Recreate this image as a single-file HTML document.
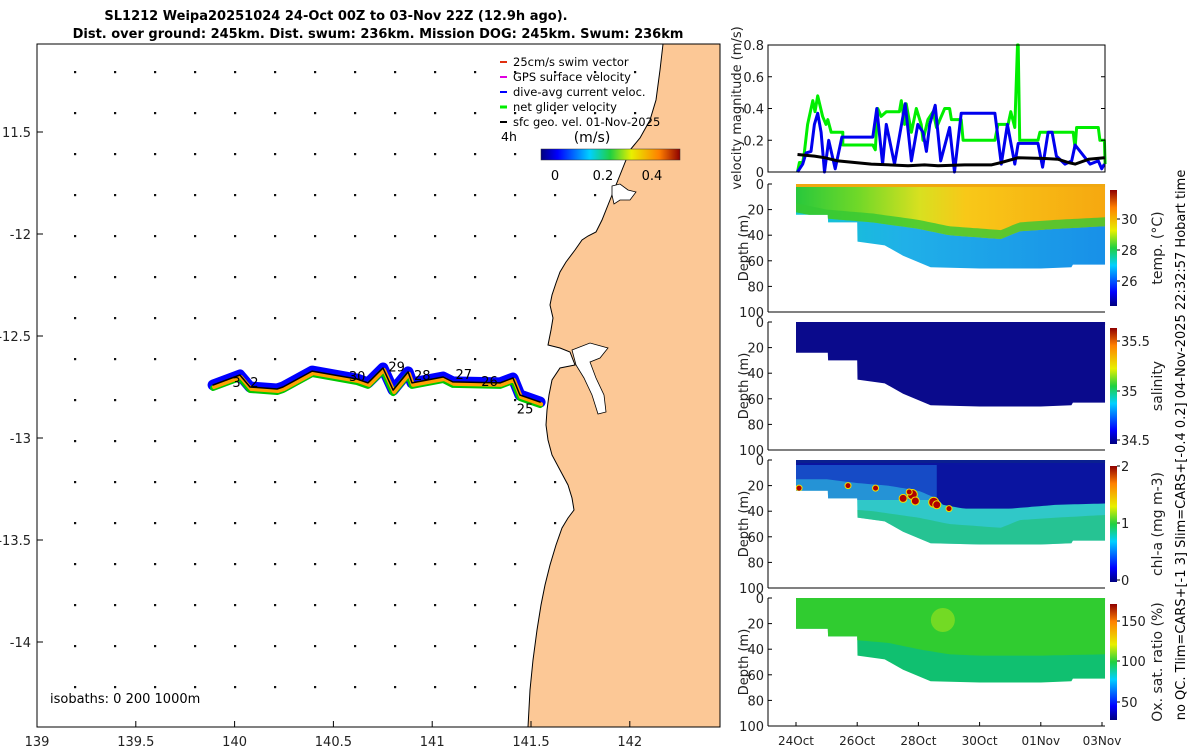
<!DOCTYPE html>
<html><head><meta charset="utf-8">
<style>
body{margin:0;background:#fff;}
svg{display:block;font-family:"DejaVu Sans","Liberation Sans",sans-serif;}
</style></head>
<body>
<svg id="fig" width="1200" height="750" viewBox="0 0 1200 750" xmlns="http://www.w3.org/2000/svg">
<defs>
<linearGradient id="jet" x1="0" y1="1" x2="0" y2="0">
<stop offset="0" stop-color="#00007f"/><stop offset="0.12" stop-color="#0000ff"/><stop offset="0.35" stop-color="#00d0ff"/><stop offset="0.5" stop-color="#20d040"/><stop offset="0.65" stop-color="#e8f000"/><stop offset="0.85" stop-color="#ff8000"/><stop offset="1" stop-color="#8f0000"/>
</linearGradient>
<linearGradient id="jeth" x1="0" y1="0" x2="1" y2="0">
<stop offset="0" stop-color="#00007f"/><stop offset="0.12" stop-color="#0000ff"/><stop offset="0.35" stop-color="#00d0ff"/><stop offset="0.5" stop-color="#20d040"/><stop offset="0.65" stop-color="#e8f000"/><stop offset="0.85" stop-color="#ff8000"/><stop offset="1" stop-color="#8f0000"/>
</linearGradient>
<linearGradient id="tempTop" x1="0" y1="0" x2="1" y2="0">
<stop offset="0" stop-color="#28c83c"/><stop offset="0.2" stop-color="#70d828"/><stop offset="0.4" stop-color="#d8e020"/><stop offset="0.55" stop-color="#f8c818"/><stop offset="1" stop-color="#f6a810"/>
</linearGradient>
<linearGradient id="tempBot" x1="0" y1="0" x2="1" y2="0">
<stop offset="0" stop-color="#10c8d0"/><stop offset="0.35" stop-color="#20b0e8"/><stop offset="1" stop-color="#1890e8"/>
</linearGradient>
</defs>

<text x="336" y="20" font-size="13" font-weight="bold" text-anchor="middle">SL1212 Weipa20251024 24-Oct 00Z to 03-Nov 22Z (12.9h ago).</text>
<text x="378" y="38" font-size="13" font-weight="bold" text-anchor="middle">Dist. over ground: 245km. Dist. swum: 236km. Mission DOG: 245km. Swum: 236km</text>

<g id="map">
<path fill="#fcc896" stroke="#000" stroke-width="1" d="M663,44 L660,70 L656,100 L650,120 L640,138 L630,150 L622,170 L614,190 L608,205 L602,220 L596,232 L588,236 L582,240 L575,250 L566,262 L560,272 L556,283 L552,295 L550,305 L553,318 L551,330 L548,345 L560,348 L570,352 L575,365 L560,368 L552,380 L549,395 L547,410 L546,425 L548,440 L552,455 L560,470 L568,485 L572,498 L574,510 L568,518 L562,528 L556,545 L550,565 L545,585 L541,605 L537,630 L533,660 L530,690 L528,727 L720,727 L720,44 Z"/>
<path fill="#fff" stroke="#000" stroke-width="0.8" d="M572,350 L590,343 L608,348 L600,358 L590,362 L596,378 L604,395 L606,412 L598,414 L592,395 L584,378 L576,365 Z"/>
<path fill="#fff" stroke="#000" stroke-width="0.8" d="M612,186 L620,184 L628,190 L636,192 L630,200 L620,200 L614,204 L612,195 Z"/>
<g id="dots"></g>
<g id="track"></g>
<rect x="37" y="44" width="683" height="683" fill="none" stroke="#000" stroke-width="1"/>
<g id="mapAxes" font-size="13" fill="#222"></g>
<text x="50" y="703" font-size="13">isobaths: 0   200  1000m</text>
<g font-size="11.5">
<line x1="500" y1="62" x2="507" y2="62" stroke="#e03010" stroke-width="2"/><text x="513" y="66">25cm/s swim vector</text>
<line x1="500" y1="77" x2="507" y2="77" stroke="#e000e0" stroke-width="2"/><text x="513" y="81">GPS surface velocity</text>
<line x1="500" y1="92" x2="507" y2="92" stroke="#0000ff" stroke-width="2"/><text x="513" y="96">dive-avg current veloc.</text>
<line x1="500" y1="107" x2="507" y2="107" stroke="#00ee00" stroke-width="3"/><text x="513" y="111">net glider velocity</text>
<line x1="500" y1="122" x2="507" y2="122" stroke="#000" stroke-width="2"/><text x="513" y="126">sfc geo. vel. 01-Nov-2025</text>
<text x="501" y="141" font-size="12.5">4h</text>
<text x="592" y="142" font-size="14" text-anchor="middle">(m/s)</text>
<rect x="541" y="149" width="139" height="11" fill="url(#jeth)" stroke="#333" stroke-width="0.5"/>
<text x="555" y="180" font-size="13" text-anchor="middle">0</text>
<text x="603" y="180" font-size="13" text-anchor="middle">0.2</text>
<text x="652" y="180" font-size="13" text-anchor="middle">0.4</text>
</g>
<g id="dayLabels" font-size="13"></g>
</g>

<g id="vel"></g>
<g id="depthPanels"></g>

<text transform="translate(1185,445) rotate(-90)" font-size="13" text-anchor="middle">no QC. Tlim=CARS+[-1 3] Slim=CARS+[-0.4 0.2] 04-Nov-2025 22:32:57 Hobart time</text>
</svg>
<script>
// ---------------- data ----------------
const mapLonTicks=[139,139.5,140,140.5,141,141.5,142];
const mapLatTicks=[-11.5,-12,-12.5,-13,-13.5,-14];
const mapLatLabels=['11.5','-12','-12.5','-13','-13.5','-14'];
const trackLon=[139.891,140.027,140.078,140.215,140.245,140.392,140.619,140.675,140.751,140.802,140.878,140.898,141.055,141.105,141.343,141.409,141.444,141.546];
const trackLat=[-12.740,-12.691,-12.750,-12.760,-12.750,-12.672,-12.711,-12.730,-12.657,-12.765,-12.676,-12.730,-12.701,-12.725,-12.730,-12.706,-12.789,-12.824];
const dayLabelText=['3','2','30','29','28','27','26','25'];
const dayLabelLon=[140.01,140.1,140.62,140.82,140.95,141.16,141.29,141.47];
const dayLabelLat=[-12.75,-12.75,-12.72,-12.675,-12.715,-12.71,-12.745,-12.88];

const dateTicks=[0,2,4,6,8,10];
const dateLabels=['24Oct','26Oct','28Oct','30Oct','01Nov','03Nov'];
const velTicks=[0,0.2,0.4,0.6,0.8];
const greenT=[0.05,0.11,0.22,0.27,0.38,0.55,0.62,0.71,0.87,0.98,1.04,1.15,1.53,1.53,2.51,2.59,2.67,2.78,2.95,3.38,3.44,3.55,3.6,3.77,3.93,4.09,4.15,4.31,4.48,4.59,4.86,5.02,5.08,5.4,5.46,6.5,6.6,6.93,7.02,7.15,7.24,7.26,7.31,7.91,7.97,9.06,9.12,9.17,9.88,9.93,10.08,10.1];
const greenV=[0,0.06,0.06,0.12,0.3,0.45,0.38,0.48,0.35,0.3,0.33,0.25,0.25,0.17,0.17,0.14,0.4,0.35,0.38,0.38,0.45,0.3,0.43,0.25,0.4,0.3,0.2,0.33,0.38,0.28,0.4,0.4,0.33,0.33,0.2,0.2,0.3,0.3,0.38,0.28,0.8,0.8,0.2,0.2,0.25,0.25,0.15,0.28,0.28,0.2,0.2,0.05];
const blueT=[0.05,0.22,0.33,0.49,0.6,0.71,0.82,0.93,1.07,1.28,1.5,2.51,2.64,2.83,2.95,3.22,3.57,3.77,3.98,4.15,4.26,4.37,4.55,4.73,5.02,5.18,5.4,6.5,6.71,6.91,7.15,7.26,7.91,8.06,8.24,8.37,8.51,8.79,9.01,9.12,9.61,9.88,9.99,10.08];
const blueV=[0,0.05,0.12,0.13,0.3,0.37,0.25,0,0.2,0.02,0.22,0.22,0.4,0.05,0.3,0.05,0.43,0.07,0.3,0.25,0.13,0.3,0.42,0.07,0.28,0,0.37,0.37,0.05,0.3,0.05,0.18,0.18,0.03,0.25,0.25,0.1,0.05,0.07,0.17,0.05,0.07,0.02,0.05];
const geoT=[0.05,0.6,0.93,1.37,2.46,3.66,4.2,4.64,5.51,6.38,6.71,7.26,8.13,8.57,8.9,9.12,9.56,10.08];
const geoV=[0.11,0.1,0.09,0.07,0.05,0.04,0.045,0.04,0.045,0.045,0.06,0.09,0.085,0.08,0.06,0.05,0.08,0.09];

const profT=[0,1.04,1.05,2.0,2.01,2.9,3.5,4.4,6.0,8.0,9.0,9.05,10.1];
const bottomDepth=[24,24,30,30,45,48,56,65,66,66,65,63,63];
const thermoT=[0,1,2.5,4,5,6.7,7.3,8.5,10.1];
const thermoDepth=[22,27,30,35,40,43,37,35,33];
const chlTopT=[0,1,2,3,4,4.6,4.8,5.5,7,8.5,10.1];
const chlTopDepth=[15,15,18,20,24,30,35,38,38,35,34];
const chlBlobT=[3.5,3.8,3.9,4.5,4.6,3.7,5.0,2.6,1.7,0.1];
const chlBlobD=[30,27,32,33,35,25,38,22,20,22];
const chlBlobR=[4,5,4,5,4,3,3,3,3,3];
const oxBoundT=[0,2,3,4,5,6,8,10.1];
const oxBoundD=[28,33,35,40,44,45,45,44];

const tempTicks=[30,28,26], tempTickY=[219,250,281];
const salTicks=['35.5','35','34.5'], salTickY=[341,391,440];
const chlTicks=['2','1','0'], chlTickY=[466,523,580];
const oxTicks=['150','100','50'], oxTickY=[621,661,702];
const depthTicks=[0,20,40,60,80,100];

// ---------------- helpers ----------------
const NS='http://www.w3.org/2000/svg';
function mk(tag,attrs,parent){const e=document.createElementNS(NS,tag);for(const k in attrs)e.setAttribute(k,attrs[k]);parent.appendChild(e);return e;}
const lonX=lon=>37+(lon-139)*197.6;
const latY=lat=>132+(-11.5-lat)*204;

// map axes
const ma=document.getElementById('mapAxes');
mapLonTicks.forEach(t=>{const x=lonX(t);
 const l=mk('line',{x1:x,y1:727,x2:x,y2:721,stroke:'#000'},ma);
 
 const tx=mk('text',{x:x,y:746,'text-anchor':'middle'},ma);tx.textContent=String(t);
 });
mapLatTicks.forEach((t,i)=>{const y=latY(t);
 const l=mk('line',{x1:37,y1:y,x2:43,y2:y,stroke:'#000'},ma);
 
 const tx=mk('text',{x:31,y:y+5,'text-anchor':'end'},ma);tx.textContent=mapLatLabels[i];
 });

// current grid dots
function coastX(y){const pts=[[44,663],[100,656],[150,630],[205,608],[240,582],[283,556],[305,550],[345,548],[380,552],[425,546],[470,560],[510,574],[545,556],[605,541],[660,533],[727,528]];
 for(let i=0;i<pts.length-1;i++){if(y>=pts[i][0]&&y<=pts[i+1][0]){const f=(y-pts[i][0])/(pts[i+1][0]-pts[i][0]);return pts[i][1]+f*(pts[i+1][1]-pts[i][1]);}}return 528;}
const dg=document.getElementById('dots');
for(let y=72;y<727;y+=41){for(let x=75;x<720;x+=40){if(x<coastX(y)-6){const d=mk('rect',{x:x-1,y:y-1,width:2.2,height:2.2,fill:'#111'},dg);
 }}}

// track
const tg=document.getElementById('track');
const tp=trackLon.map((l,i)=>lonX(l).toFixed(1)+','+latY(trackLat[i]).toFixed(1)).join(' ');
[['#0000ff',11],['#00c800',6],['#ffa000',4],['#000',1.5]].forEach((s,k)=>{
 const p=mk('polyline',{points:tp,fill:'none',stroke:s[0],'stroke-width':s[1],'stroke-linejoin':'round','stroke-linecap':'round',transform:k==1?'translate(0,3)':(k==2?'translate(1,2)':'')},tg);
 });
const dl=document.getElementById('dayLabels');
dayLabelText.forEach((t,i)=>{const tx=mk('text',{x:lonX(dayLabelLon[i]),y:latY(dayLabelLat[i]),'text-anchor':'middle'},dl);tx.textContent=t;
 });

// ---------------- velocity panel ----------------
const dayX=d=>796+d*30.6;
const vg=document.getElementById('vel');
const VT=45,VB=172,VL=768,VR=1105;
const vY=v=>VB-v/0.8*(VB-VT);
function polyl(ts,vs,col,w,name){const p=mk('polyline',{points:ts.map((t,i)=>dayX(t).toFixed(1)+','+vY(vs[i]).toFixed(1)).join(' '),fill:'none',stroke:col,'stroke-width':w,'stroke-linejoin':'round'},vg);
 }
polyl(greenT,greenV,'#00ee00',3,'net-glider-velocity-line');
polyl(blueT,blueV,'#0000ee',3,'dive-avg-current-line');
polyl(geoT,geoV,'#000',3,'sfc-geo-velocity-line');
const vf=mk('rect',{x:VL,y:VT,width:VR-VL,height:VB-VT,fill:'none',stroke:'#000'},vg);

velTicks.forEach(v=>{const y=vY(v);mk('line',{x1:VL,y1:y,x2:VL+4,y2:y,stroke:'#000'},vg);mk('line',{x1:VR,y1:y,x2:VR-4,y2:y,stroke:'#000'},vg);
 const tx=mk('text',{x:VL-4,y:y+5,'text-anchor':'end','font-size':13,fill:'#222'},vg);tx.textContent=String(v);
 });
const vt=mk('text',{transform:'translate(741,108) rotate(-90)','text-anchor':'middle','font-size':13,fill:'#222'},vg);vt.textContent='velocity magnitude (m/s)';


// ---------------- depth panels ----------------
const dp=document.getElementById('depthPanels');
const panelTops=[184,322,460,598];
function interp(ts,ds,t){if(t<=ts[0])return ds[0];for(let i=0;i<ts.length-1;i++){if(t<=ts[i+1]){const f=(t-ts[i])/(ts[i+1]-ts[i]||1);return ds[i]+f*(ds[i+1]-ds[i]);}}return ds[ds.length-1];}
function areaPath(top,tsA,dA,tsB,dB){const s=1.28;const N=80;let pts=[];
 for(let k=0;k<=N;k++){const t=10.1*k/N;pts.push([dayX(t),top+(tsA?interp(tsA,dA,t):dA)*s]);}
 for(let k=N;k>=0;k--){const t=10.1*k/N;pts.push([dayX(t),top+interp(tsB,dB,t)*s]);}
 return 'M'+pts.map(p=>p[0].toFixed(1)+','+p[1].toFixed(1)).join(' L')+'Z';}
function areaPathStep(top){
 const s=1.28;let pts=[[dayX(0),top+3]];
 profT.forEach((t,i)=>pts.push([dayX(t),top+bottomDepth[i]*s]));
 pts.push([dayX(10.1),top+3]);return 'M'+pts.map(p=>p[0].toFixed(1)+','+p[1].toFixed(1)).join(' L')+'Z';}
const panelNames=['temperature','salinity','chlorophyll','oxygen'];
panelTops.forEach((top,pi)=>{
 const g=mk('g',{},dp);
 const cid='clip'+pi;const cp=mk('clipPath',{id:cid},g);mk('path',{d:areaPathStep(top)},cp);
 const inner=mk('g',{'clip-path':'url(#'+cid+')'},g);
 const X0=dayX(0),X1=dayX(10.1);
 if(pi==0){
  mk('rect',{x:X0,y:top,width:X1-X0,height:90,fill:'url(#tempBot)'},inner);
  mk('path',{d:areaPath(top,null,0,thermoT,thermoDepth),fill:'url(#tempTop)'},inner);
  mk('path',{d:areaPath(top,thermoT,thermoDepth.map(v=>v-7),thermoT,thermoDepth),fill:'#34c834',opacity:0.8},inner);
 } else if(pi==1){
  mk('rect',{x:X0,y:top,width:X1-X0,height:90,fill:'#0a0a8c'},inner);
 } else if(pi==2){
  mk('rect',{x:X0,y:top,width:X1-X0,height:90,fill:'#30c8c8'},inner);
  mk('path',{d:areaPath(top,thermoT,thermoDepth.map(v=>v+10),thermoT,thermoDepth.map(v=>v+40)),fill:'#20c070',opacity:0.6},inner);
  mk('path',{d:areaPath(top,null,0,chlTopT,chlTopDepth),fill:'#0a14a0'},inner);
  mk('rect',{x:X0,y:top+5,width:dayX(4.6)-X0,height:35,fill:'#1e70e0',opacity:0.6},inner);
  chlBlobT.forEach((t,i)=>{const c=mk('circle',{cx:dayX(t),cy:top+chlBlobD[i]*1.28,r:chlBlobR[i],fill:'#b00000',stroke:'#f0e000','stroke-width':1},inner);
   });
 } else {
  mk('rect',{x:X0,y:top,width:X1-X0,height:90,fill:'#10c070'},inner);
  mk('path',{d:areaPath(top,null,0,oxBoundT,oxBoundD),fill:'#30cc30'},inner);
  mk('ellipse',{cx:dayX(4.8),cy:top+22,rx:12,ry:12,fill:'#90e020',opacity:0.7},inner);
 }
 const sr=mk('rect',{x:X0,y:top,width:X1-X0,height:3,fill:['#f0a810','#0a0a8c','#0a2090','#30cc30'][pi]},g);
 
 const bot=top+128;
 mk('line',{x1:768,y1:top,x2:768,y2:bot,stroke:'#000'},g);
 mk('line',{x1:768,y1:bot,x2:1105,y2:bot,stroke:'#000'},g);
 depthTicks.forEach(d=>{const y=top+d*1.28;mk('line',{x1:768,y1:y,x2:772,y2:y,stroke:'#000'},g);
  const tx=mk('text',{x:764,y:y+5,'text-anchor':'end','font-size':13,fill:'#222'},g);tx.textContent=String(d);
  });
 const at=mk('text',{transform:'translate(748,'+(top+64)+') rotate(-90)','text-anchor':'middle','font-size':13,fill:'#222'},g);at.textContent='Depth (m)';
 
 if(pi==3){dateTicks.forEach((d,i)=>{const x=dayX(d);mk('line',{x1:x,y1:bot,x2:x,y2:bot-4,stroke:'#000'},g);
  const tx=mk('text',{x:x,y:bot+19,'text-anchor':'middle','font-size':12,fill:'#222'},g);tx.textContent=dateLabels[i];
  });}
 const cbT=top+6,cbH=116;
 const cb=mk('rect',{x:1110,y:cbT,width:7,height:cbH,fill:'url(#jet)'},g);
 
 const tk=[tempTicks,salTicks,chlTicks,oxTicks][pi], ty=[tempTickY,salTickY,chlTickY,oxTickY][pi];
 tk.forEach((t,i)=>{mk('line',{x1:1117,y1:ty[i],x2:1120,y2:ty[i],stroke:'#000'},g);
  const tx=mk('text',{x:1121,y:ty[i]+5,'font-size':13,fill:'#222'},g);tx.textContent=String(t);
  });
 const lbl=['temp. (°C)','salinity','chl-a (mg m-3)','Ox. sat. ratio (%)'][pi];
 const lt=mk('text',{transform:'translate(1162,'+(top+64)+') rotate(-90)','text-anchor':'middle','font-size':14,fill:'#222'},g);lt.textContent=lbl;
 
});
</script>
</body></html>
